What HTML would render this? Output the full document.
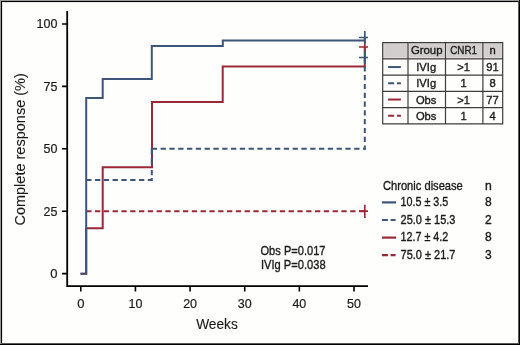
<!DOCTYPE html>
<html><head><meta charset="utf-8"><style>
html,body{margin:0;padding:0;background:#fefefc;}
svg{display:block;will-change:transform;}
text{font-family:"Liberation Sans", sans-serif;fill:#1a1a1a;stroke:#1a1a1a;stroke-width:0.35px;}
text.t{stroke-width:0.2px;}
text.a{stroke-width:0.12px;}
</style></head><body>
<svg width="520" height="345" viewBox="0 0 520 345">
<rect x="0" y="0" width="520" height="345" fill="#fefefc"/>
<rect x="2" y="2" width="516" height="1" fill="#e8e8e8"/>
<rect x="2" y="2" width="1" height="341" fill="#e4e4e4"/>
<rect x="0" y="0" width="520" height="1" fill="#999"/>
<rect x="0" y="0" width="1" height="345" fill="#999"/>
<rect x="1" y="1" width="518" height="1" fill="#000"/>
<rect x="1" y="1" width="1" height="343" fill="#000"/>
<rect x="518" y="1" width="1" height="343" fill="#5a5a5a"/>
<rect x="1" y="343" width="518" height="1" fill="#5a5a5a"/>
<rect x="519" y="0" width="1" height="345" fill="#000"/>
<rect x="0" y="344" width="520" height="1" fill="#000"/>
<path d="M67.2,11 V286.1 H368" fill="none" stroke="#000" stroke-width="1.8"/>
<path d="M62,273.60 H67.2 M62,211.20 H67.2 M62,148.80 H67.2 M62,86.40 H67.2 M62,24.00 H67.2 " stroke="#000" stroke-width="1.6" fill="none"/>
<path d="M80.80,286 V291.6 M135.44,286 V291.6 M190.08,286 V291.6 M244.72,286 V291.6 M299.36,286 V291.6 M354.00,286 V291.6 " stroke="#000" stroke-width="1.6" fill="none"/>
<text class="t" x="57.4" y="278.00" font-size="13" text-anchor="end">0</text>
<text class="t" x="57.4" y="215.60" font-size="13" text-anchor="end" textLength="13.9" lengthAdjust="spacingAndGlyphs">25</text>
<text class="t" x="57.4" y="153.20" font-size="13" text-anchor="end" textLength="13.9" lengthAdjust="spacingAndGlyphs">50</text>
<text class="t" x="57.4" y="90.80" font-size="13" text-anchor="end" textLength="13.9" lengthAdjust="spacingAndGlyphs">75</text>
<text class="t" x="57.4" y="28.40" font-size="13" text-anchor="end" textLength="20.9" lengthAdjust="spacingAndGlyphs">100</text>
<text class="t" x="80.80" y="308.2" font-size="13" text-anchor="middle">0</text>
<text class="t" x="135.44" y="308.2" font-size="13" text-anchor="middle" textLength="13.9" lengthAdjust="spacingAndGlyphs">10</text>
<text class="t" x="190.08" y="308.2" font-size="13" text-anchor="middle" textLength="13.9" lengthAdjust="spacingAndGlyphs">20</text>
<text class="t" x="244.72" y="308.2" font-size="13" text-anchor="middle" textLength="13.9" lengthAdjust="spacingAndGlyphs">30</text>
<text class="t" x="299.36" y="308.2" font-size="13" text-anchor="middle" textLength="13.9" lengthAdjust="spacingAndGlyphs">40</text>
<text class="t" x="354.00" y="308.2" font-size="13" text-anchor="middle" textLength="13.9" lengthAdjust="spacingAndGlyphs">50</text>
<text class="a" x="217" y="329.2" font-size="15.5" text-anchor="middle" textLength="41.6" lengthAdjust="spacingAndGlyphs">Weeks</text>
<text class="a" transform="translate(25.2,149.4) rotate(-90)" x="0" y="0" font-size="15.5" text-anchor="middle" textLength="152.4" lengthAdjust="spacingAndGlyphs">Complete response (%)</text>
<path d="M80.5,273.7 H86.2 V228.2 H102.7 V167.2 H152 V102 H222.7 V66.4 H364.8 V47" fill="none" stroke="#9b2838" stroke-width="2"/>
<path d="M86.2,211.2 H364.8" fill="none" stroke="#9b2838" stroke-width="2" stroke-dasharray="5.3 3.5"/>
<path d="M359,47 H368 M364.8,40.5 V53.5 M359,211.2 H368 M364.8,204.8 V218" fill="none" stroke="#9b2838" stroke-width="1.7"/>
<path d="M86.2,180 H151.8" fill="none" stroke="#3c5578" stroke-width="2" stroke-dasharray="5.3 3.5"/>
<path d="M151.8,181 V148" fill="none" stroke="#3c5578" stroke-width="2" stroke-dasharray="3.1 2.6 5.3 5.1 7.2 2.7 7"/>
<path d="M151.8,148.7 H365.8" fill="none" stroke="#3c5578" stroke-width="2" stroke-dasharray="5.3 3.5"/>
<path d="M364.8,57.5 V149.7" fill="none" stroke="#3c5578" stroke-width="2" stroke-dasharray="5.2 3.6"/>
<path d="M80.5,273.7 H86.2 V98 H102.7 V79 H151.8 V46.1 H222.8 V40.6 H364.8 V37.5" fill="none" stroke="#3c5578" stroke-width="2"/>
<path d="M359,37.5 H368 M364.8,31 V44 M359,57.5 H368 M364.8,51 V64" fill="none" stroke="#3c5578" stroke-width="1.7"/>
<text x="260.5" y="255.2" font-size="12.6" textLength="65" lengthAdjust="spacingAndGlyphs">Obs P=0.017</text>
<text x="261" y="268.7" font-size="12.6" textLength="64.6" lengthAdjust="spacingAndGlyphs">IVIg P=0.038</text>
<rect x="382.7" y="42.6" width="120.0" height="16.240000000000002" fill="#e3dfdf"/>
<rect x="384.30" y="43.90" width="22.50" height="13.34" fill="#d2cece"/>
<rect x="409.60" y="43.90" width="34.70" height="13.34" fill="#d2cece"/>
<rect x="447.10" y="43.90" width="34.60" height="13.34" fill="#d2cece"/>
<rect x="484.50" y="43.90" width="17.00" height="13.34" fill="#d2cece"/>
<path d="M382.7,42.6 H502.7 V123.8 H382.7 Z M408.0,42.6 V123.8 M445.5,42.6 V123.8 M482.9,42.6 V123.8 M382.7,58.84 H502.7 M382.7,75.08 H502.7 M382.7,91.32 H502.7 M382.7,107.56 H502.7 " fill="none" stroke="#3c3c3c" stroke-width="1.2"/>
<text x="426.7" y="54.30" font-size="11.2" text-anchor="middle" textLength="31.6" lengthAdjust="spacingAndGlyphs">Group</text>
<text x="463.6" y="54.30" font-size="11.2" text-anchor="middle" textLength="26.9" lengthAdjust="spacingAndGlyphs">CNR1</text>
<text x="492.5" y="54.30" font-size="11.2" text-anchor="middle">n</text>
<text x="426.2" y="71.06" font-size="11.2" text-anchor="middle">IVIg</text>
<text x="463.6" y="71.06" font-size="11.2" text-anchor="middle">&gt;1</text>
<text x="492.6" y="71.06" font-size="11.2" text-anchor="middle">91</text>
<path d="M388.1,67.06 H400.9" stroke="#3c5578" stroke-width="2" fill="none" />
<text x="426.2" y="87.30" font-size="11.2" text-anchor="middle">IVIg</text>
<text x="463.6" y="87.30" font-size="11.2" text-anchor="middle">1</text>
<text x="492.6" y="87.30" font-size="11.2" text-anchor="middle">8</text>
<path d="M388.1,83.30 H400.9" stroke="#3c5578" stroke-width="2" fill="none" stroke-dasharray="6 2.9 5"/>
<text x="426.2" y="103.54" font-size="11.2" text-anchor="middle">Obs</text>
<text x="463.6" y="103.54" font-size="11.2" text-anchor="middle">&gt;1</text>
<text x="492.6" y="103.54" font-size="11.2" text-anchor="middle">77</text>
<path d="M388.1,99.54 H400.9" stroke="#9b2838" stroke-width="2" fill="none" />
<text x="426.2" y="119.78" font-size="11.2" text-anchor="middle">Obs</text>
<text x="463.6" y="119.78" font-size="11.2" text-anchor="middle">1</text>
<text x="492.6" y="119.78" font-size="11.2" text-anchor="middle">4</text>
<path d="M388.1,115.78 H400.9" stroke="#9b2838" stroke-width="2" fill="none" stroke-dasharray="6 2.9 5"/>
<text x="383" y="189.5" font-size="12.2" textLength="79.8" lengthAdjust="spacingAndGlyphs">Chronic disease</text>
<text x="488.4" y="189.5" font-size="12.2" text-anchor="middle">n</text>
<path d="M381.9,202.40 H396.1" stroke="#3c5578" stroke-width="2.2" fill="none" />
<text x="400.6" y="206.00" font-size="12" textLength="47.7" lengthAdjust="spacingAndGlyphs">10.5 ± 3.5</text>
<text x="488.4" y="206.00" font-size="12" text-anchor="middle">8</text>
<path d="M381.9,220.00 H396.1" stroke="#3c5578" stroke-width="2.2" fill="none" stroke-dasharray="6 2.7 5"/>
<text x="400.6" y="223.60" font-size="12" textLength="54.8" lengthAdjust="spacingAndGlyphs">25.0 ± 15.3</text>
<text x="488.4" y="223.60" font-size="12" text-anchor="middle">2</text>
<path d="M381.9,237.60 H396.1" stroke="#9b2838" stroke-width="2.2" fill="none" />
<text x="400.6" y="241.20" font-size="12" textLength="47.7" lengthAdjust="spacingAndGlyphs">12.7 ± 4.2</text>
<text x="488.4" y="241.20" font-size="12" text-anchor="middle">8</text>
<path d="M381.9,255.20 H396.1" stroke="#9b2838" stroke-width="2.2" fill="none" stroke-dasharray="6 2.7 5"/>
<text x="400.6" y="258.80" font-size="12" textLength="54.8" lengthAdjust="spacingAndGlyphs">75.0 ± 21.7</text>
<text x="488.4" y="258.80" font-size="12" text-anchor="middle">3</text>
</svg>
</body></html>
